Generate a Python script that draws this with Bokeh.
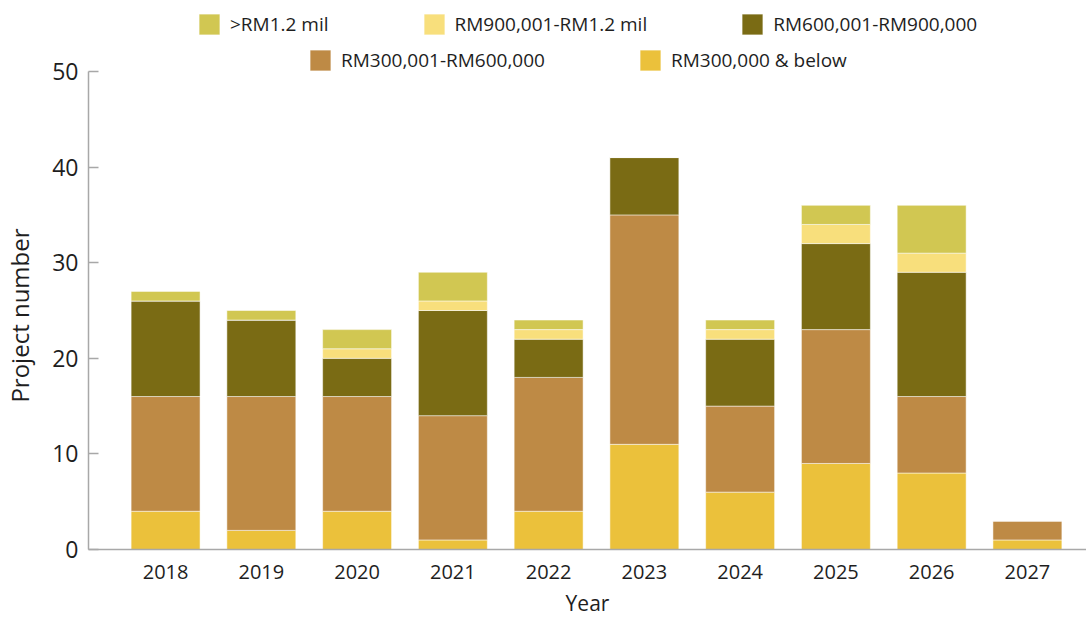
from bokeh.plotting import figure
from bokeh.models import Range1d, FixedTicker, Legend, LegendItem, ColumnDataSource
from bokeh.embed import file_html
from bokeh.resources import INLINE

years = [2018, 2019, 2020, 2021, 2022, 2023, 2024, 2025, 2026, 2027]
below_300k = [4, 2, 4, 1, 4, 11, 6, 9, 8, 1]
rm300_600k = [12, 14, 12, 13, 14, 24, 9, 14, 8, 2]
rm600_900k = [10, 8, 4, 11, 4, 6, 7, 9, 13, 0]
rm900k_1_2m = [0, 0, 1, 1, 1, 0, 1, 2, 2, 0]
above_1_2m = [1, 1, 2, 3, 1, 0, 1, 2, 5, 0]

series_names = ["RM300,000 & below", "RM300,001-RM600,000", "RM600,001-RM900,000",
                "RM900,001-RM1.2 mil", ">RM1.2 mil"]
colors = ["#EBC13B", "#BE8A45", "#7A6B14", "#F8DF7C", "#D1C752"]
y_ticks = [0, 10, 20, 30, 40, 50]
y_max = 50

FONT = "Open Sans"
TXT = "#1e1e1e"

keys = ["s0", "s1", "s2", "s3", "s4"]
src = ColumnDataSource(dict(year=years, s0=below_300k, s1=rm300_600k, s2=rm600_900k,
                            s3=rm900k_1_2m, s4=above_1_2m))

# frame runs to the top of the canvas; the axis is bounded to 0..50 and the
# legend rows sit in the headroom above it
FRAME_H = 549
AXIS_H = 478
p = figure(width=1086, height=619, output_backend="svg", toolbar_location=None,
           x_range=Range1d(2017.195, 2027.617), y_range=Range1d(0, y_max * FRAME_H / AXIS_H),
           min_border_left=88, min_border_right=0, min_border_top=0, min_border_bottom=70)
p.outline_line_color = None
p.xgrid.visible = False
p.ygrid.visible = False

renderers = p.vbar_stack(keys, x="year", width=0.72, source=src, color=colors,
                         line_color="white", line_alpha=0.5, line_width=1)

p.xaxis.ticker = FixedTicker(ticks=years)
p.yaxis.ticker = FixedTicker(ticks=y_ticks)
p.yaxis.bounds = (0, y_max)
for ax in (p.xaxis[0], p.yaxis[0]):
    ax.axis_line_color = "#a8a8a8"
    ax.axis_line_width = 1.5
    ax.minor_tick_line_color = None
    ax.major_label_text_font = FONT
    ax.major_label_text_color = TXT
    ax.axis_label_text_font = FONT
    ax.axis_label_text_font_style = "normal"
    ax.axis_label_text_color = TXT
p.xaxis.major_tick_line_color = None
p.xaxis.major_label_text_font_size = "20px"
p.xaxis.major_label_standoff = 9
p.xaxis.axis_label = "Year"
p.xaxis.axis_label_text_font_size = "21px"
p.xaxis.axis_label_standoff = 7
p.yaxis.major_tick_line_color = "#a8a8a8"
p.yaxis.major_tick_line_width = 1.5
p.yaxis.major_tick_in = 10
p.yaxis.major_tick_out = 0
p.yaxis.major_label_text_font_size = "23px"
p.yaxis.major_label_standoff = 10
# trailing no-break spaces centre the label on the 0-50 axis span rather than the frame
p.yaxis.axis_label = "Project number" + "\u00a0" * 13
p.yaxis.axis_label_text_font_size = "24px"
p.yaxis.axis_label_standoff = 13

def make_legend(idx, loc):
    items = [LegendItem(label=series_names[i], renderers=[renderers[i]]) for i in idx]
    return Legend(items=items, orientation="horizontal", location=loc,
                  glyph_width=26, glyph_height=26, label_standoff=8, spacing=92,
                  padding=0, margin=0, border_line_alpha=0, background_fill_alpha=0,
                  label_text_font=FONT, label_text_font_size="19px",
                  label_text_color=TXT, label_height=26)

p.add_layout(make_legend([4, 3, 2], (108, 512)), "center")
p.add_layout(make_legend([1, 0], (219, 476)), "center")

open("out.html", "w").write(file_html(p, INLINE))
